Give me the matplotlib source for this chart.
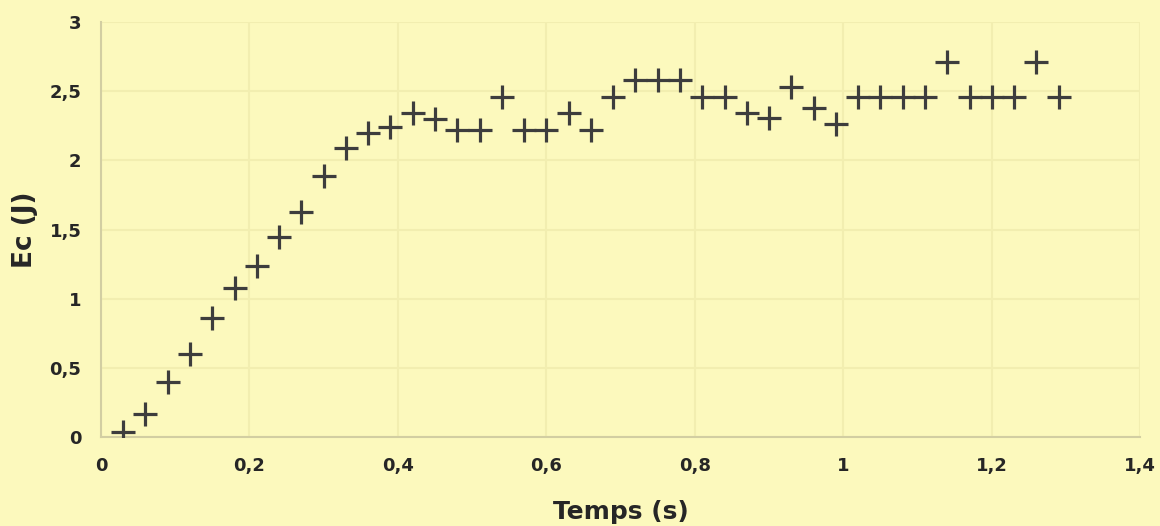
"""Kinetic energy vs time scatter (Ec in J, t in s)."""

import matplotlib

matplotlib.use("Agg")
import matplotlib.pyplot as plt
from matplotlib.ticker import FuncFormatter, MultipleLocator

# time samples (s)
temps = [
    0.03, 0.06, 0.09, 0.12, 0.15, 0.18, 0.21, 0.24, 0.27, 0.30,
    0.33, 0.36, 0.39, 0.42, 0.45, 0.48, 0.51, 0.54, 0.57, 0.60,
    0.63, 0.66, 0.69, 0.72, 0.75, 0.78, 0.81, 0.84, 0.87, 0.90,
    0.93, 0.96, 0.99, 1.02, 1.05, 1.08, 1.11, 1.14, 1.17, 1.20,
    1.23, 1.26, 1.29,
]

# kinetic energy (J)
ec = [
    0.04, 0.17, 0.40, 0.60, 0.86, 1.08, 1.24, 1.45, 1.63, 1.89,
    2.09, 2.20, 2.24, 2.34, 2.30, 2.22, 2.22, 2.46, 2.22, 2.22,
    2.34, 2.22, 2.46, 2.58, 2.58, 2.58, 2.46, 2.46, 2.34, 2.31,
    2.53, 2.38, 2.26, 2.46, 2.46, 2.46, 2.46, 2.71, 2.46, 2.46,
    2.46, 2.71, 2.46,
]

BG = "#fcf9bd"
INK = "#262626"


def comma(value, _pos):
    text = f"{value:.1f}".rstrip("0").rstrip(".")
    return text.replace(".", ",")


fig = plt.figure(figsize=(11.6, 5.26), dpi=100, facecolor=BG)
ax = fig.add_axes([0.087, 0.169, 0.896, 0.789], facecolor=BG)

ax.plot(temps, ec, linestyle="none", marker="+", markersize=17, markeredgewidth=2.3, color="#3d3d3d", zorder=3)

ax.set_xlim(0, 1.4)
ax.set_ylim(0, 3)
ax.xaxis.set_major_locator(MultipleLocator(0.2))
ax.yaxis.set_major_locator(MultipleLocator(0.5))
ax.xaxis.set_major_formatter(FuncFormatter(comma))
ax.yaxis.set_major_formatter(FuncFormatter(comma))
ax.grid(True, color="#f2eeb0", lw=1.5, zorder=0)

for side in ("top", "right"):
    ax.spines[side].set_visible(False)
for side in ("left", "bottom"):
    ax.spines[side].set_color("#d2cea2")
    ax.spines[side].set_linewidth(1.5)

ax.tick_params(length=0, pad=14, labelsize=13, labelcolor=INK)
for label in ax.get_xticklabels() + ax.get_yticklabels():
    label.set_fontweight("heavy")

ax.set_xlabel("Temps (s)", fontsize=18, fontweight="heavy", color=INK, labelpad=18)
ax.set_ylabel("Ec (J)", fontsize=19, fontweight="heavy", color=INK, labelpad=8)

fig.savefig("out.png", dpi=100, facecolor=BG)
